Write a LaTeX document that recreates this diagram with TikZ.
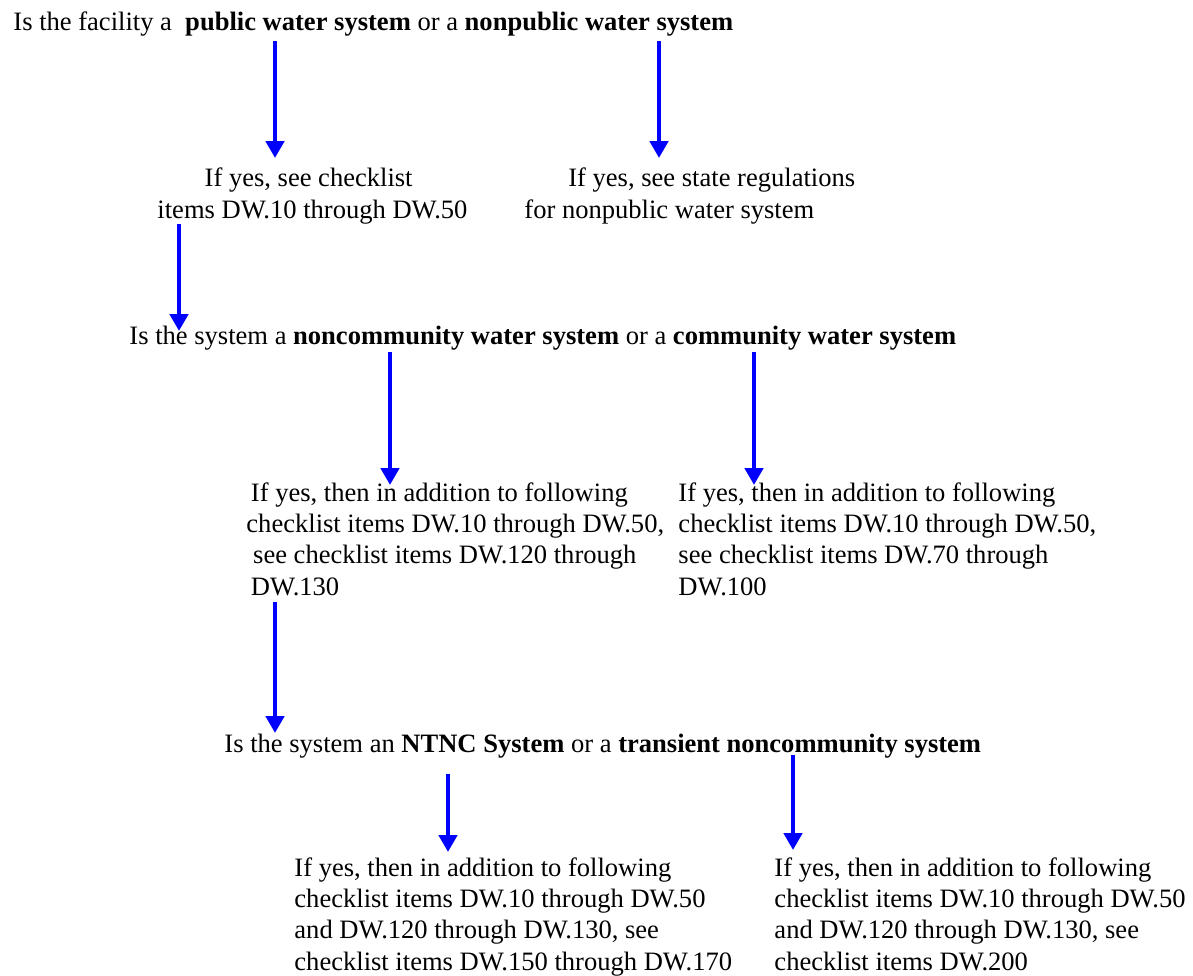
\documentclass[tikz,border=0pt]{standalone}
\usepackage{fontspec}
\setmainfont{Liberation Serif}
\usetikzlibrary{arrows.meta}
\definecolor{flowblue}{RGB}{0,0,255}

\begin{document}
\begin{tikzpicture}[x=0.4444pt,y=-0.4444pt,
    txt/.style={font=\fontsize{11.8pt}{13.8pt}\selectfont,inner sep=0pt,
      anchor=base west,align=left},
    flow/.style={draw=flowblue,line width=2.2pt,
      -{Triangle[width=8pt,length=7.5pt]}}]
    \useasboundingbox (0,0) rectangle (1193,975);

    % questions and answers (multi-line nodes sit on their last line)
    \node[txt] (qfac) at (13,30) {Is the facility a \ \textbf{public water
      system} or a \textbf{nonpublic water system}};
    \node[txt] (yespub) at (157,218) {\hspace*{21pt}If yes, see
      checklist\\items DW.10 through DW.50};
    \node[txt] (yesnonpub) at (524,218) {\hspace*{19.5pt}If yes, see state
      regulations\\for nonpublic water system};

    \node[txt] (qcom) at (129,344) {Is the system a \textbf{noncommunity water
      system} or a \textbf{community water system}};
    \node[txt] (yesnoncom) at (246,595) {\hspace*{2pt}If yes, then in addition
      to following\\checklist items DW.10 through DW.50,\\\hspace*{3pt}see
      checklist items DW.120 through\\\hspace*{2pt}DW.130};
    \node[txt] (yescom) at (678,595) {If yes, then in addition to
      following\\checklist items DW.10 through DW.50,\\see checklist items
      DW.70 through\\DW.100};

    \node[txt] (qntnc) at (224,752) {Is the system an \textbf{NTNC System} or
      a \textbf{transient noncommunity system}};
    \node[txt] (yesntnc) at (294,970) {If yes, then in addition to
      following\\checklist items DW.10 through DW.50\\and DW.120 through
      DW.130, see\\checklist items DW.150 through DW.170};
    \node[txt] (yestnc) at (774,970) {If yes, then in addition to
      following\\checklist items DW.10 through DW.50\\and DW.120 through
      DW.130, see\\checklist items DW.200};

    % arrow ends
    \coordinate (pubtop) at (275,41);    \coordinate (pubtip) at (275,158);
    \coordinate (nonpubtop) at (659,41); \coordinate (nonpubtip) at (659,158);
    \coordinate (comtop) at (179,224);   \coordinate (comtip) at (179,331);
    \coordinate (ncomtop) at (390,352);  \coordinate (ncomtip) at (390,485);
    \coordinate (cwstop) at (754,352);   \coordinate (cwstip) at (754,485);
    \coordinate (ntnctop) at (275,602);  \coordinate (ntnctip) at (275,733);
    \coordinate (ntop) at (448,774);     \coordinate (ntip) at (448,852);
    \coordinate (ttop) at (793,755);     \coordinate (ttip) at (793,850);

    \foreach \a in {pub,nonpub,com,ncom,cws,ntnc,n,t}
      \draw[flow] (\a top) -- (\a tip);
  \end{tikzpicture}
\end{document}
